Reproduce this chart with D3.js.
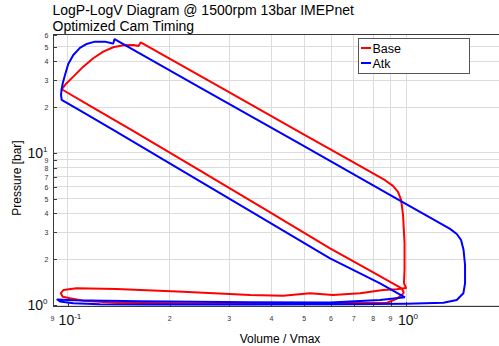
<!DOCTYPE html>
<html>
<head>
<meta charset="utf-8">
<script src="https://cdn.jsdelivr.net/npm/d3@7"></script>
<style>
  body { margin: 0; background: #fff; }
  svg { display: block; font-family: "Liberation Sans", Arial, sans-serif; }
</style>
</head>
<body>
<svg id="chart" width="499" height="346"></svg>
<script>
// Base cam timing: compression, combustion, expansion, blowdown, exhaust, intake
const baseV = [0.986, 0.971, 0.783, 0.596, 0.383, 0.246, 0.154, 0.120, 0.0958,
  0.0991, 0.1037, 0.1110, 0.1188, 0.1272, 0.1361, 0.1457, 0.1560, 0.1617, 0.1641,
  0.282, 0.486, 0.683, 0.867, 0.915, 0.947, 0.967, 0.980, 0.990, 0.990, 0.986, 1.000,
  0.939, 0.855, 0.731, 0.608, 0.520, 0.433, 0.346, 0.219, 0.139, 0.106, 0.0969, 0.0952,
  0.0965, 0.1014, 0.111, 0.139, 0.246, 0.486, 0.683, 0.879, 0.941, 0.986];
const baseP = [1.199, 1.288, 1.684, 2.361, 4.250, 7.65, 14.17, 19.56, 26.25,
  28.75, 31.77, 36.96, 41.98, 46.39, 49.61, 51.13, 51.36, 50.58, 53.33,
  27.10, 13.68, 8.93, 6.62, 6.07, 5.54, 4.91, 3.91, 2.558, 1.699, 1.395, 1.294,
  1.268, 1.255, 1.194, 1.163, 1.194, 1.151, 1.163, 1.223, 1.274, 1.288, 1.255, 1.194,
  1.134, 1.107, 1.067, 1.035, 1.023, 1.023, 1.031, 1.035, 1.104, 1.199];

// Atkinson cam timing
const atkV = [0.993, 0.838, 0.707, 0.596, 0.383, 0.246, 0.1361, 0.1123, 0.0958,
  0.0954, 0.0957, 0.0965, 0.0980, 0.1002, 0.1037, 0.1085, 0.1136, 0.120, 0.1287,
  0.1347, 0.1361, 0.1373,
  0.246, 0.486, 0.960, 1.350, 1.413, 1.455, 1.480, 1.495, 1.495, 1.478, 1.413, 1.290,
  1.005, 0.638, 0.346, 0.175, 0.1243, 0.1037, 0.0947, 0.0930,
  0.1037, 0.163, 0.346, 0.596, 0.838, 0.993];
const atkP = [1.124, 1.389, 1.679, 2.029, 3.635, 6.51, 14.17, 18.19, 22.32,
  24.07, 25.97, 28.75, 32.6, 38.5, 44.13, 49.08, 52.14, 53.99, 53.99,
  52.69, 52.53, 55.98,
  26.94, 11.46, 4.86, 3.167, 2.932, 2.677, 2.301, 1.833, 1.389, 1.194, 1.079, 1.035,
  1.020, 1.011, 1.006, 1.006, 1.011, 1.026, 1.054, 1.087,
  1.074, 1.058, 1.042, 1.039, 1.079, 1.124];

const seriesNames = ["Base", "Atk"];
const seriesColors = ["#ff0000", "#0000ff"];

const xMajorTicks = [0.1, 1];
const xMajorLabels = ["-1", "0"];
const xMinorTicks = [0.09, 0.2, 0.3, 0.4, 0.5, 0.6, 0.7, 0.8, 0.9];
const xMinorLabels = ["9", "2", "3", "4", "5", "6", "7", "8", "9"];
const yMajorTicks = [1, 10];
const yMajorLabels = ["0", "1"];
const yMinorTicks = [2, 3, 4, 5, 6, 7, 8, 9, 20, 30, 40, 50, 60];
const yMinorLabels = ["2", "3", "4", "5", "6", "7", "8", "9", "2", "3", "4", "5", "6"];

const titleLines = ["LogP-LogV Diagram @ 1500rpm 13bar IMEPnet", "Optimized Cam Timing"];
const xTitle = "Volume / Vmax";
const yTitle = "Pressure [bar]";

const svg = d3.select("#chart");
const plotL = 52.5, plotR = 499, plotT = 34, plotB = 306;

const x = d3.scaleLog().domain([0.09, 1.884]).range([plotL, plotR]);
const y = d3.scaleLog().domain([0.985, 60.6]).range([plotB, plotT]);

svg.append("defs").append("clipPath").attr("id", "plotClip")
  .append("rect").attr("x", plotL).attr("y", plotT).attr("width", plotR - plotL).attr("height", plotB - plotT);

// grid
const gridColor = "#dcdcdc";
const allX = xMajorTicks.concat(xMinorTicks.filter(v => v > 0.09));
const allY = yMajorTicks.concat(yMinorTicks);
svg.append("g").selectAll("line").data(allX).join("line")
  .attr("x1", d => x(d)).attr("x2", d => x(d)).attr("y1", plotT).attr("y2", plotB)
  .attr("stroke", gridColor).attr("stroke-width", 1).attr("shape-rendering", "crispEdges");
svg.append("g").selectAll("line").data(allY).join("line")
  .attr("x1", plotL).attr("x2", plotR).attr("y1", d => y(d)).attr("y2", d => y(d))
  .attr("stroke", gridColor).attr("stroke-width", 1).attr("shape-rendering", "crispEdges");

// inward tick marks
const axisColor = "#3a3a3a";
const yAxis = svg.append("g").attr("transform", `translate(${plotL},0)`)
  .call(d3.axisLeft(y).tickValues(allY).tickSizeInner(-4).tickSizeOuter(0).tickFormat(""));
const xAxis = svg.append("g").attr("transform", `translate(0,${plotB})`)
  .call(d3.axisBottom(x).tickValues(allX).tickSizeInner(-4).tickSizeOuter(0).tickFormat(""));
[yAxis, xAxis].forEach(g => {
  g.selectAll("path,line").attr("stroke", axisColor).attr("shape-rendering", "crispEdges");
});
// frame top
svg.append("line").attr("x1", plotL).attr("x2", plotR).attr("y1", plotT).attr("y2", plotT)
  .attr("stroke", axisColor).attr("shape-rendering", "crispEdges");

// curves
const line = d3.line().x(d => x(d[0])).y(d => y(d[1]));
const series = [d3.zip(baseV, baseP), d3.zip(atkV, atkP)];
const plot = svg.append("g").attr("clip-path", "url(#plotClip)");
series.forEach((s, i) => {
  plot.append("path").datum(s).attr("d", line)
    .attr("fill", "none").attr("stroke", seriesColors[i])
    .attr("stroke-width", 2).attr("stroke-linejoin", "round");
});

// tick labels
const labelColor = "#333";
svg.append("g").selectAll("text").data(yMinorTicks).join("text")
  .attr("x", plotL - 4).attr("y", d => y(d) + 3)
  .attr("text-anchor", "end").attr("font-size", 7).attr("fill", labelColor)
  .text((d, i) => yMinorLabels[i]);
yMajorTicks.forEach((v, i) => {
  const t = svg.append("text").attr("x", plotL - 5).attr("y", y(v) + 5)
    .attr("text-anchor", "end").attr("font-size", 14).attr("fill", "#111");
  t.append("tspan").text("10");
  t.append("tspan").attr("dy", -6).attr("font-size", 8).text(yMajorLabels[i]);
});
svg.append("g").selectAll("text").data(xMinorTicks).join("text")
  .attr("x", d => x(d)).attr("y", plotB + 15)
  .attr("text-anchor", "middle").attr("font-size", 7).attr("fill", labelColor)
  .text((d, i) => xMinorLabels[i]);
xMajorTicks.forEach((v, i) => {
  const t = svg.append("text").attr("x", x(v) + 2).attr("y", plotB + 19)
    .attr("text-anchor", "middle").attr("font-size", 14).attr("fill", "#111");
  t.append("tspan").text("10");
  t.append("tspan").attr("dy", -6).attr("font-size", 8).text(xMajorLabels[i]);
});

// titles
titleLines.forEach((s, i) => {
  svg.append("text").attr("x", plotL).attr("y", 15 + i * 16)
    .attr("font-size", 14).attr("fill", "#000").text(s);
});
svg.append("text").attr("x", 280).attr("y", 343).attr("text-anchor", "middle")
  .attr("font-size", 12).attr("fill", "#000").text(xTitle);
svg.append("text").attr("transform", "translate(21,178) rotate(-90)")
  .attr("text-anchor", "middle").attr("font-size", 12).attr("fill", "#000").text(yTitle);

// legend
const lg = svg.append("g").attr("transform", "translate(358.5,38.5)");
lg.append("rect").attr("width", 111).attr("height", 35)
  .attr("fill", "#fff").attr("stroke", "#555").attr("stroke-width", 1);
seriesNames.forEach((name, i) => {
  const ly = 9.5 + i * 15;
  lg.append("line").attr("x1", 2.5).attr("x2", 12.5).attr("y1", ly).attr("y2", ly)
    .attr("stroke", seriesColors[i]).attr("stroke-width", 2);
  lg.append("text").attr("x", 14).attr("y", ly + 4.5).attr("font-size", 12.5)
    .attr("fill", "#000").text(name);
});
</script>
</body>
</html>
